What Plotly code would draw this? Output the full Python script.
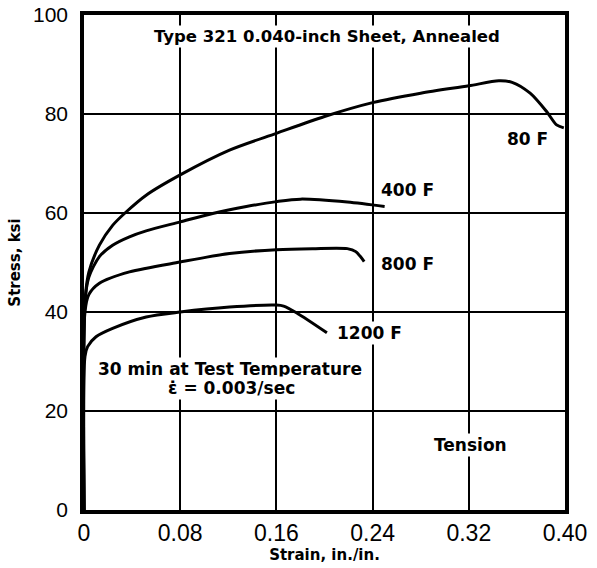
import plotly.graph_objects as go

# Engineering stress-strain curves, Type 321 stainless sheet, annealed
strain_80 = [0, 0.0008, 0.004, 0.0128, 0.0238, 0.035, 0.0517, 0.08, 0.121, 0.16,
             0.20, 0.24, 0.28, 0.32, 0.345, 0.356, 0.371, 0.385, 0.393, 0.399]
stress_80 = [0, 42, 48, 53.5, 57.5, 60.2, 63.6, 67.7, 72.7, 76.1,
             79.5, 82.3, 84.2, 85.7, 86.7, 86.4, 84.2, 80.4, 77.8, 77.2]

strain_400 = [0, 0.0008, 0.004, 0.0128, 0.0238, 0.0378, 0.0517, 0.08, 0.107,
              0.135, 0.16, 0.18, 0.219, 0.25]
stress_400 = [0, 42, 47, 51.2, 53.5, 55.2, 56.4, 58.2, 59.9,
              61.3, 62.3, 62.8, 62.2, 61.3]

strain_800 = [0, 0.0008, 0.004, 0.0128, 0.0378, 0.08, 0.121, 0.16, 0.19, 0.219, 0.226, 0.233]
stress_800 = [0, 40, 43.5, 45.8, 48.1, 50.1, 51.8, 52.6, 52.8, 52.8, 52.2, 50.2]

strain_1200 = [0, 0.0008, 0.003, 0.010, 0.0238, 0.0517, 0.08, 0.121, 0.16, 0.166, 0.177, 0.202]
stress_1200 = [0, 31, 33, 35, 36.7, 39, 40, 41, 41.4, 41.2, 39.8, 35.8]

x_ticks = [0, 0.08, 0.16, 0.24, 0.32, 0.40]
x_tick_text = ["0", "0.08", "0.16", "0.24", "0.32", "0.40"]
y_ticks = [0, 20, 40, 60, 80, 100]
y_tick_text = ["0", "20", "40", "60", "80", "100"]

curves = [
    (strain_80, stress_80, "80 F"),
    (strain_400, stress_400, "400 F"),
    (strain_800, stress_800, "800 F"),
    (strain_1200, stress_1200, "1200 F"),
]

TICK_FONT = "Liberation Sans"
LABEL_FONT = "DejaVu Sans"

fig = go.Figure()
for xs, ys, name in curves:
    fig.add_trace(go.Scatter(
        x=xs, y=ys, mode="lines", name=name,
        line=dict(color="black", width=3, shape="spline", smoothing=0.8),
        cliponaxis=True, showlegend=False,
    ))

notes = [
    (0.202, 95.6, "Type 321 0.040-inch Sheet, Annealed", 16.5),
    (0.369, 74.9, "80 F", 17),
    (0.269, 64.6, "400 F", 17),
    (0.269, 49.6, "800 F", 17),
    (0.2375, 35.8, "1200 F", 17),
    (0.121, 28.5, "30 min at Test Temperature", 17),
    (0.123, 24.6, "\u03b5\u0307 = 0.003/sec", 17),
    (0.321, 13.2, "Tension", 17),
]
for x, y, text, size in notes:
    fig.add_annotation(
        x=x, y=y, text=text, showarrow=False, xref="x", yref="y",
        font=dict(family=LABEL_FONT, size=size, color="black", weight="bold"),
        bgcolor="white", borderpad=1,
    )

fig.update_xaxes(
    range=[0, 0.40], tickvals=x_ticks, ticktext=x_tick_text,
    showgrid=True, gridcolor="black", gridwidth=1.5,
    showline=True, linecolor="black", linewidth=3.5, mirror=True,
    ticks="", zeroline=False, automargin=False,
    tickfont=dict(family=TICK_FONT, size=23, color="black"),
    title=dict(text="Strain, in./in.", standoff=4,
               font=dict(family=LABEL_FONT, size=15, color="black", weight="bold")),
)
fig.update_yaxes(
    range=[0, 100], tickvals=y_ticks, ticktext=y_tick_text,
    showgrid=True, gridcolor="black", gridwidth=1.5,
    showline=True, linecolor="black", linewidth=3.5, mirror=True,
    ticks="", zeroline=False, ticklabelstandoff=8, automargin=False,
    tickfont=dict(family=TICK_FONT, size=21, color="black"),
    title=dict(text="Stress, ksi", standoff=10,
               font=dict(family=LABEL_FONT, size=15, color="black", weight="bold")),
)

fig.update_layout(
    width=597, height=568,
    margin=dict(l=84, r=32, t=15, b=58, autoexpand=False),
    plot_bgcolor="white", paper_bgcolor="white",
)

fig.write_html("out.html")
